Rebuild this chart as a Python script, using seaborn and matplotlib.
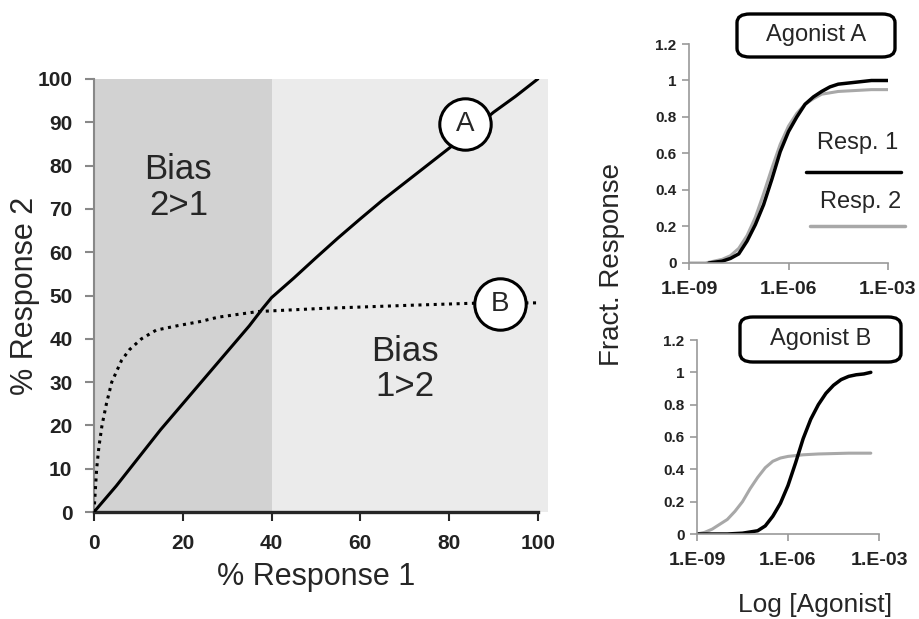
import numpy as np
import pandas as pd
import matplotlib.pyplot as plt
import seaborn as sns
from matplotlib.patches import FancyBboxPatch

# main panel: % response 2 vs % response 1
a_resp1 = [0, 5, 10, 15, 20, 25, 30, 35, 38, 40, 45, 50, 55, 60, 65, 70, 75, 80, 85, 90, 95, 100]
a_resp2 = [0, 6, 12.5, 19, 25, 31, 37, 43, 47, 49.5, 54, 58.7, 63.3, 67.7, 72, 76, 80, 84, 88, 92.3, 96, 100]
b_resp1 = [0, 0.3, 0.6, 1.1, 1.8, 2.8, 4, 6.2, 8, 10.7, 14, 18.7, 24, 28, 37, 51, 70, 85, 100]
b_resp2 = [0, 5, 10, 15, 20, 25, 30, 35, 37.5, 40, 42, 43, 44, 45, 46.3, 47, 47.7, 48.2, 48.3]

# agonist A dose-response (log10 molar)
a1_log = [-8.4, -8, -7.75, -7.5, -7.25, -7, -6.75, -6.5, -6.25, -6, -5.75, -5.5, -5.25, -5,
          -4.75, -4.5, -4, -3.5, -3]
a1_frac = [0, 0.01, 0.025, 0.05, 0.12, 0.21, 0.32, 0.46, 0.61, 0.72, 0.8, 0.87, 0.91, 0.94,
           0.965, 0.98, 0.99, 1.0, 1.0]
a2_log = [-9, -8.5, -8, -7.75, -7.5, -7.25, -7, -6.75, -6.5, -6.25, -6, -5.75, -5.5, -5.25,
          -5, -4.5, -4, -3.5, -3]
a2_frac = [0, 0, 0.02, 0.04, 0.08, 0.15, 0.25, 0.38, 0.52, 0.65, 0.75, 0.82, 0.87, 0.9,
           0.925, 0.94, 0.945, 0.95, 0.95]

# agonist B dose-response
b1_log = [-9, -8, -7.5, -7, -6.75, -6.5, -6.25, -6, -5.75, -5.5, -5.25, -5, -4.75, -4.5,
          -4.25, -4, -3.75, -3.5, -3.27]
b1_frac = [0, 0, 0.005, 0.02, 0.05, 0.11, 0.19, 0.3, 0.44, 0.59, 0.71, 0.8, 0.87, 0.92,
           0.955, 0.975, 0.985, 0.99, 1.0]
b2_log = [-9, -8.75, -8.5, -8.25, -8, -7.75, -7.5, -7.25, -7, -6.75, -6.5, -6.25, -6, -5.5,
          -5, -4, -3.27]
b2_frac = [0, 0.01, 0.03, 0.06, 0.09, 0.14, 0.2, 0.28, 0.35, 0.41, 0.45, 0.47, 0.48, 0.49,
           0.495, 0.5, 0.5]

sns.set_style("ticks")
plt.rcParams['font.family'] = ['Liberation Sans', 'DejaVu Sans']

W, H = 919, 619
fig = plt.figure(figsize=(W / 100, H / 100), dpi=100)

# ---- main panel ----
ax = fig.add_axes([94 / W, 1 - 512 / H, 454 / W, 433 / H])
ax.set_xlim(0, 102.3)
ax.set_ylim(0, 100)
ax.axvspan(0, 40, color="#d2d2d2", lw=0, zorder=0)
ax.axvspan(40, 102.3, color="#ebebeb", lw=0, zorder=0)

sns.lineplot(x=a_resp1, y=a_resp2, color="black", lw=2.2, sort=False, ax=ax, zorder=3)
sns.lineplot(x=b_resp1, y=b_resp2, color="black", lw=2.2, sort=False, ax=ax, zorder=3,
             linestyle=(0, (1, 1.5)))

for lab, (cx, cy) in {"A": (83.7, 89.7), "B": (91.4, 48.0)}.items():
    ax.scatter([cx], [cy], s=1370, facecolor="white", edgecolor="black", lw=2.2, zorder=4)
    ax.text(cx, cy, lab, ha="center", va="center", fontsize=20, zorder=5)

ax.text(19, 75, "Bias\n2>1", ha="center", va="center", fontsize=25, linespacing=1.1)
ax.text(70, 33, "Bias\n1>2", ha="center", va="center", fontsize=25, linespacing=1.1)

ax.set_xticks([0, 20, 40, 60, 80, 100])
ax.set_yticks(range(0, 101, 10))
ax.tick_params(axis="both", labelsize=15, length=6.5, width=1.5, direction="out", pad=9)
ax.tick_params(axis="y", color="#888888")
for t in ax.get_xticklabels() + ax.get_yticklabels():
    t.set_fontweight("bold")
    t.set_color("#222222")
ax.spines["right"].set_visible(False)
ax.spines["top"].set_visible(False)
ax.spines["left"].set_color("#888888")
ax.spines["left"].set_linewidth(1.5)
ax.spines["bottom"].set_linewidth(2.4)
ax.spines["bottom"].set_bounds(0, 100)
ax.set_xlabel("% Response 1", fontsize=22, va="center")
ax.xaxis.set_label_coords(0.489, -0.150)
ax.set_ylabel("% Response 2", fontsize=22, va="center")
ax.yaxis.set_label_coords(-0.152, 0.5)


def dose_panel(rect, r1_log, r1, r2_log, r2, title, box):
    axd = fig.add_axes(rect)
    d1 = pd.DataFrame({"conc": 10.0 ** np.array(r1_log), "frac": r1})
    d2 = pd.DataFrame({"conc": 10.0 ** np.array(r2_log), "frac": r2})
    sns.lineplot(data=d2, x="conc", y="frac", color="#a8a8a8", lw=2.2, ax=axd)
    sns.lineplot(data=d1, x="conc", y="frac", color="black", lw=2.5, ax=axd)
    axd.set_xscale("log")
    axd.set_xlim(1e-9, 1e-3)
    axd.set_ylim(0, 1.2)
    axd.set_xticks([1e-9, 1e-6, 1e-3])
    axd.set_xticks([], minor=True)
    axd.set_xticklabels(["1.E-09", "1.E-06", "1.E-03"], fontsize=14)
    axd.set_yticks([0, 0.2, 0.4, 0.6, 0.8, 1.0, 1.2])
    axd.set_yticklabels(["0", "0.2", "0.4", "0.6", "0.8", "1", "1.2"], fontsize=11)
    axd.tick_params(axis="both", length=5, width=1.2, color="#999999")
    axd.tick_params(axis="x", pad=8)
    axd.tick_params(axis="y", pad=4)
    for t in axd.get_xticklabels() + axd.get_yticklabels():
        t.set_fontweight("bold")
        t.set_color("#222222")
    for s in ["right", "top"]:
        axd.spines[s].set_visible(False)
    for s in ["left", "bottom"]:
        axd.spines[s].set_color("#999999")
        axd.spines[s].set_linewidth(1.2)
    axd.set_xlabel("")
    axd.set_ylabel("")
    x0, y0, x1, y1 = box
    fig.add_artist(FancyBboxPatch((x0 / W, 1 - y1 / H), (x1 - x0) / W, (y1 - y0) / H,
                                  boxstyle="round,pad=0,rounding_size=0.014",
                                  fc="white", ec="black", lw=2.4, transform=fig.transFigure))
    fig.text((x0 + x1) / 2 / W, 1 - (y0 + y1) / 2 / H, title, ha="center", va="center",
             fontsize=17)
    return axd


axa = dose_panel([689 / W, 1 - 263 / H, 199 / W, 219 / H], a1_log, a1_frac, a2_log, a2_frac,
                 "Agonist A", (737, 14, 895, 57))
axb = dose_panel([697 / W, 1 - 534 / H, 182 / W, 194 / H], b1_log, b1_frac, b2_log, b2_frac,
                 "Agonist B", (740, 317, 901, 362))

# manual legend in the top panel
fig.text(858 / W, 1 - 143 / H, "Resp. 1", ha="center", va="center", fontsize=17)
fig.text(861 / W, 1 - 202 / H, "Resp. 2", ha="center", va="center", fontsize=17)
fig.add_artist(plt.Line2D([806 / W, 901 / W], [1 - 172 / H] * 2, color="black", lw=2.5))
fig.add_artist(plt.Line2D([810 / W, 905 / W], [1 - 226 / H] * 2, color="#a8a8a8", lw=2.5))

fig.text(612 / W, 1 - 265 / H, "Fract. Response", rotation=90, ha="center", va="center",
         fontsize=20)
fig.text(815 / W, 1 - 605 / H, "Log [Agonist]", ha="center", va="center", fontsize=19)

fig.savefig("out.png", dpi=100)
